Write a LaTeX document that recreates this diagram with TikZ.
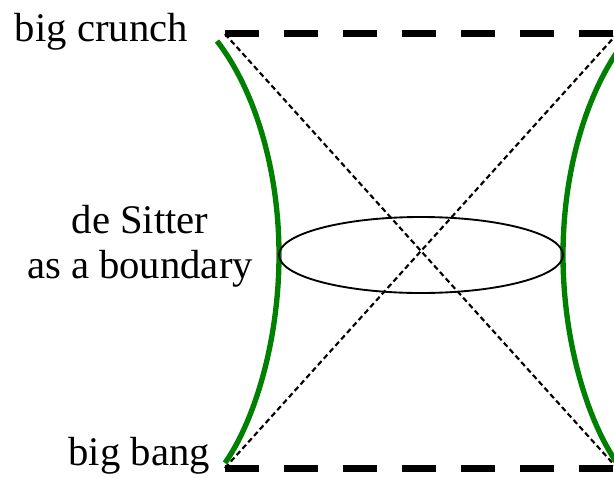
\documentclass[tikz,border=0pt]{standalone}
\usepackage{fontspec}
\newfontfamily\labelfont{Liberation Serif}
\definecolor{bdygreen}{RGB}{0,128,0}

\begin{document}
\begin{tikzpicture}[x=0.75pt, y=-0.75pt, font=\labelfont\fontsize{30.5}{34}\selectfont,
  edge/.style={line width=5.25pt, dash pattern=on 25.5pt off 18.75pt},
  diag/.style={line width=1.6pt, dash pattern=on 4pt off 2.5pt},
  bdy/.style={draw=bdygreen, line width=4pt}]
\clip (0,0) rectangle (614,478);
% corners of the square
\coordinate (tl) at (225,34);
\coordinate (tr) at (617,34);
\coordinate (bl) at (225,468);
\coordinate (br) at (617,468);
\draw[edge] (tl) -- (tr);
\draw[edge] (bl) -- (br);
\draw[diag] (tl) -- (br);
\draw[diag] (bl) -- (tr);
% boundaries
\draw[bdy] (217,41) .. controls (255,90) and (279,170) .. (279,255)
  .. controls (279,340) and (255,420) .. (225,463);
\draw[bdy] (625,41) .. controls (587,90) and (563,170) .. (563,255)
  .. controls (563,340) and (587,420) .. (617,463);
\draw[line width=1.4pt] (421,255) ellipse (142 and 38);
% labels
\node[anchor=base east, inner sep=0pt] (crunch) at (188,42) {big crunch};
\node[anchor=base east, inner sep=0pt] (bang) at (210,465) {big bang};
\node[align=center] (dslabel) at (140,246) {de Sitter\\as a boundary};
\end{tikzpicture}
\end{document}
